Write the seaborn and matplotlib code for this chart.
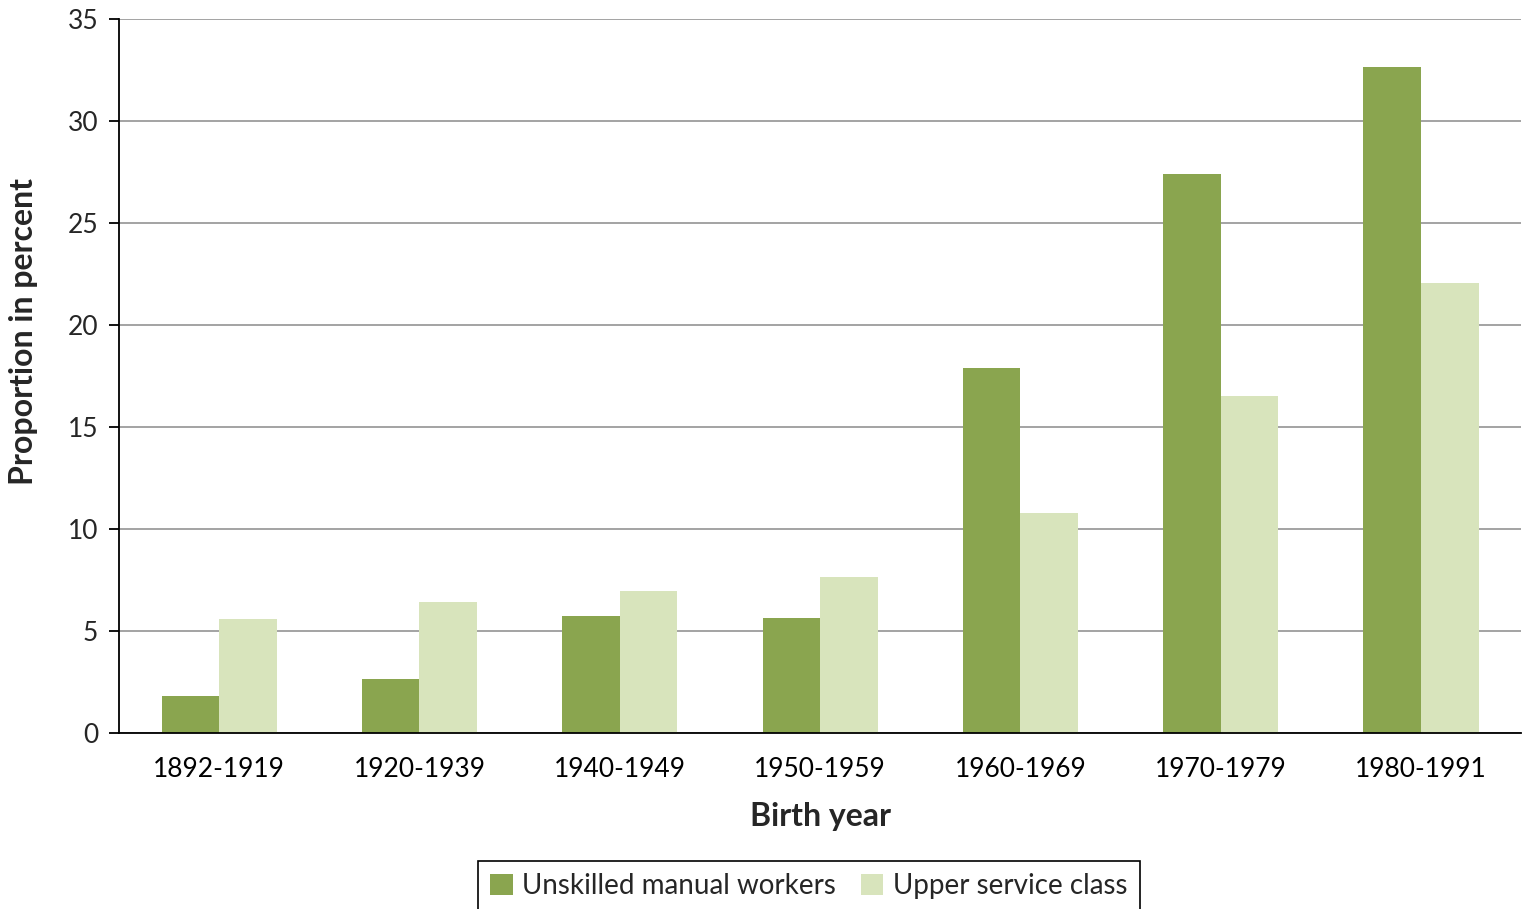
import pandas as pd
import matplotlib.pyplot as plt
import seaborn as sns

# Chart data
birth_years = ['1892-1919', '1920-1939', '1940-1949', '1950-1959',
               '1960-1969', '1970-1979', '1980-1991']
unskilled = [1.8, 2.65, 5.75, 5.65, 17.9, 27.4, 32.65]
upper_service = [5.6, 6.4, 6.95, 7.65, 10.8, 16.5, 22.05]
series_names = ['Unskilled manual workers', 'Upper service class']

df = pd.DataFrame({
    'Birth year': birth_years * 2,
    'Proportion': unskilled + upper_service,
    'Group': [series_names[0]] * len(birth_years) + [series_names[1]] * len(birth_years),
})

sns.set_style("white")
plt.rcParams['font.family'] = ['Lato', 'DejaVu Sans']

fig = plt.figure(figsize=(15.22, 9.09), dpi=100)
ax = fig.add_axes([119 / 1522, 1 - 733 / 909, 1 - 119 / 1522 - 0.0005, (733 - 19) / 909])

sns.barplot(data=df, x='Birth year', y='Proportion', hue='Group',
            palette=['#8AA54F', '#D8E4BC'], saturation=1, width=0.575, gap=0,
            edgecolor='none', ax=ax, legend=True)

ax.set_ylim(0, 35)
ax.set_xlim(-0.5, len(birth_years) - 0.5)
ax.set_yticks(range(0, 36, 5))
ax.yaxis.grid(True, color='#9c9c9c', linewidth=1.3)
ax.set_axisbelow(True)

for side in ['top', 'right']:
    ax.spines[side].set_visible(False)
for side in ['left', 'bottom']:
    ax.spines[side].set_color('black')
    ax.spines[side].set_linewidth(1.3)

# category boundary ticks on x, labels centered
ax.set_xticks([i - 0.5 for i in range(len(birth_years) + 1)], minor=True)
ax.tick_params(axis='x', which='major', length=0, pad=17, labelsize=19, colors='black')
ax.tick_params(axis='x', which='minor', length=7, width=1.3, color='black', direction='out')
ax.tick_params(axis='y', length=7, width=1.3, color='black', direction='out',
               pad=8, labelsize=19, left=True)

ax.set_xlabel('Birth year', fontsize=23, fontweight='bold', labelpad=15)
ax.set_ylabel('Proportion in percent', fontsize=23, fontweight='bold')
ax.yaxis.set_label_coords(-0.058, 0.563)

handles, labels = ax.get_legend_handles_labels()
ax.get_legend().remove()
fig.legend(handles, labels, loc='center', bbox_to_anchor=(809 / 1522, 1 - 886 / 909),
           ncol=2, frameon=True, fancybox=False, edgecolor='black', framealpha=1,
           fontsize=20, handlelength=0.8, handleheight=0.8, handletextpad=0.35,
           columnspacing=0.9, borderpad=0.45)
fig.legends[0].get_frame().set_linewidth(1.2)

plt.savefig('out.png', dpi=100)
